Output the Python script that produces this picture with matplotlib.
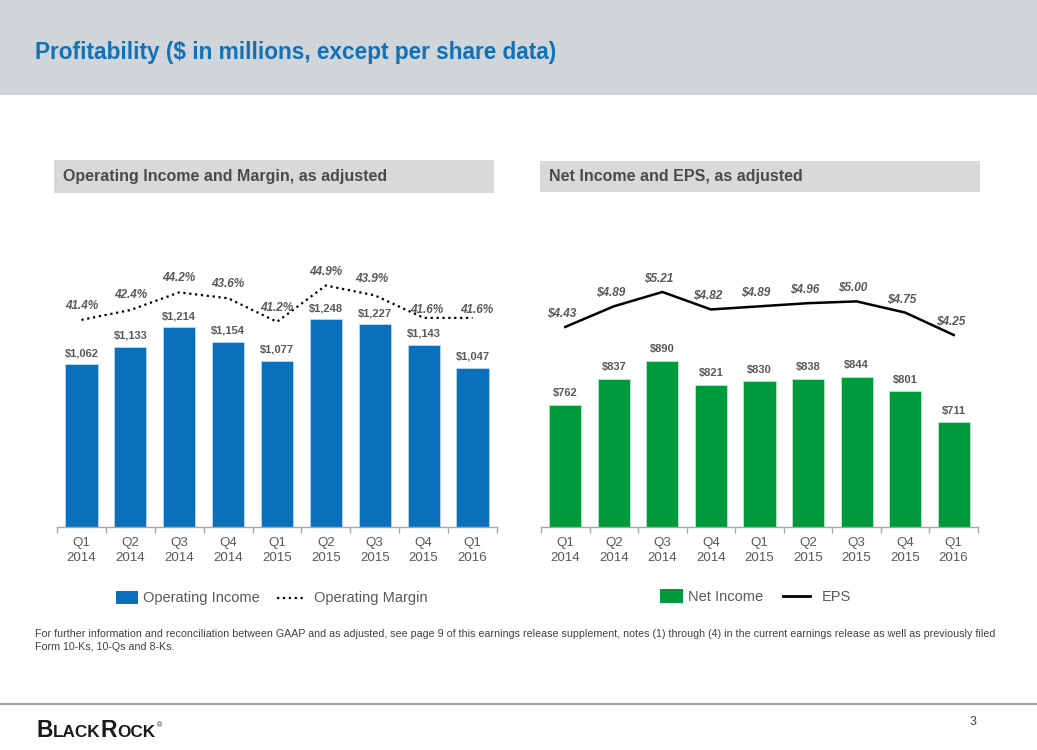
import numpy as np
import matplotlib
matplotlib.use("Agg")
import matplotlib.pyplot as plt
from matplotlib.patches import Rectangle
from matplotlib.lines import Line2D

plt.rcParams['font.family'] = ['Liberation Sans', 'DejaVu Sans']

# ---------------- data ----------------
quarters = ["Q1\n2014", "Q2\n2014", "Q3\n2014", "Q4\n2014", "Q1\n2015",
            "Q2\n2015", "Q3\n2015", "Q4\n2015", "Q1\n2016"]
op_income = [1062, 1133, 1214, 1154, 1077, 1248, 1227, 1143, 1047]
op_margin = [41.4, 42.4, 44.2, 43.6, 41.2, 44.9, 43.9, 41.6, 41.6]
net_income = [762, 837, 890, 821, 830, 838, 844, 801, 711]
eps = [4.43, 4.89, 5.21, 4.82, 4.89, 4.96, 5.00, 4.75, 4.25]

# label offsets (style, in points)
margin_label_dy = [10, 11, 10, 10, 10, 9.5, 12, 6, 6]
margin_label_dx = [0, 0, 0, 0, 0, 0, -2, 2.5, 3]

W, H = 1037, 750
fig = plt.figure(figsize=(W / 100, H / 100), dpi=100)


def fx(x):
    return x / W


def fy(y):
    return 1 - y / H


BLUE = '#0A70BC'
GREEN = '#009A3D'
GRAY_TXT = '#595959'
TITLE_BLUE = '#1470B5'

# header band
fig.patches.append(Rectangle((0, fy(95)), 1, 95 / H, transform=fig.transFigure,
                             facecolor='#D0D5DA', edgecolor='none', zorder=0))
fig.text(fx(35), fy(52), "Profitability ($ in millions, except per share data)",
         fontsize=16.3, fontweight='bold', color=TITLE_BLUE, va='center', ha='left')

# subtitle boxes
fig.patches.append(Rectangle((fx(54), fy(193)), 440 / W, 33 / H, transform=fig.transFigure,
                             facecolor='#D9D9D9', edgecolor='none', zorder=0))
fig.text(fx(63), fy(177), "Operating Income and Margin, as adjusted", fontsize=11.5,
         fontweight='bold', color='#4A4A4A', va='center', ha='left')
fig.patches.append(Rectangle((fx(540), fy(192)), 440 / W, 31 / H, transform=fig.transFigure,
                             facecolor='#D9D9D9', edgecolor='none', zorder=0))
fig.text(fx(549), fy(176), "Net Income and EPS, as adjusted", fontsize=11.5,
         fontweight='bold', color='#4A4A4A', va='center', ha='left')

x = np.arange(len(quarters))


def style_axis(ax):
    for s in ['top', 'left', 'right']:
        ax.spines[s].set_visible(False)
    ax.spines['bottom'].set_color('#A6A6A6')
    ax.spines['bottom'].set_linewidth(1.0)
    ax.set_yticks([])
    ax.set_xlim(-0.5, len(quarters) - 0.5)
    ax.set_xticks(x)
    ax.set_xticklabels(quarters, fontsize=9.6, color=GRAY_TXT, linespacing=1.25)
    ax.tick_params(axis='x', which='major', length=0, pad=7.5)
    ax.set_xticks(np.arange(-0.5, len(quarters), 1), minor=True)
    ax.tick_params(axis='x', which='minor', length=4, color='#A6A6A6', width=1)
    ax.patch.set_alpha(0)


def style_twin(ax):
    for s in ax.spines.values():
        s.set_visible(False)
    ax.set_yticks([])
    ax.tick_params(axis='both', length=0)


# ---------------- left chart ----------------
ax1 = fig.add_axes([fx(57), fy(527), 440 / W, 317 / H])
ax1.bar(x, op_income, width=0.66, color=BLUE, edgecolor='#BFE0F5', linewidth=0.5)
ax1.set_ylim(389, 1699)
style_axis(ax1)
for i, v in enumerate(op_income):
    ax1.annotate(f"${v:,}", (i, v), xytext=(0, 8), textcoords='offset points',
                 ha='center', va='center', fontsize=8, fontweight='bold', color=GRAY_TXT)

ax1b = ax1.twinx()
ax1b.plot(x, op_margin, linestyle=':', color='black', linewidth=1.6)
ax1b.set_ylim(20.28, 52.6)
ax1b.set_xlim(-0.5, len(quarters) - 0.5)
style_twin(ax1b)
for i, v in enumerate(op_margin):
    ax1b.annotate(f"{v:.1f}%", (i, v), xytext=(margin_label_dx[i], margin_label_dy[i]),
                  textcoords='offset points', ha='center', va='center', fontsize=8.5,
                  fontweight='bold', fontstyle='italic', color=GRAY_TXT)

# ---------------- right chart ----------------
ax2 = fig.add_axes([fx(541), fy(527), 437 / W, 317 / H])
ax2.bar(x, net_income, width=0.66, color=GREEN, edgecolor='#BFEFD0', linewidth=0.5)
ax2.set_ylim(407, 1328.5)
style_axis(ax2)
for i, v in enumerate(net_income):
    ax2.annotate(f"${v:,}", (i, v), xytext=(0, 8.5), textcoords='offset points',
                 ha='center', va='center', fontsize=8, fontweight='bold', color=GRAY_TXT)

ax2b = ax2.twinx()
ax2b.plot(x, eps, linestyle='-', color='black', linewidth=1.8)
ax2b.set_ylim(-0.036, 7.04)
ax2b.set_xlim(-0.5, len(quarters) - 0.5)
style_twin(ax2b)
for i, v in enumerate(eps):
    ax2b.annotate(f"${v:.2f}", (i, v), xytext=(-2.5, 9.5), textcoords='offset points',
                  ha='center', va='center', fontsize=8.5, fontweight='bold',
                  fontstyle='italic', color=GRAY_TXT)

# ---------------- legends ----------------
fig.patches.append(Rectangle((fx(116), fy(604)), 22 / W, 13 / H, transform=fig.transFigure,
                             facecolor=BLUE, edgecolor='none'))
fig.text(fx(143), fy(598), "Operating Income", fontsize=10.5, color=GRAY_TXT,
         va='center', ha='left')
fig.lines.append(Line2D([fx(277), fx(303)], [fy(598), fy(598)], transform=fig.transFigure,
                        linestyle=':', color='black', linewidth=1.6))
fig.text(fx(314), fy(598), "Operating Margin", fontsize=10.5, color=GRAY_TXT,
         va='center', ha='left')

fig.patches.append(Rectangle((fx(660), fy(603)), 23 / W, 14 / H, transform=fig.transFigure,
                             facecolor=GREEN, edgecolor='none'))
fig.text(fx(688), fy(597), "Net Income", fontsize=10.5, color=GRAY_TXT,
         va='center', ha='left')
fig.lines.append(Line2D([fx(783), fx(810)], [fy(596), fy(596)], transform=fig.transFigure,
                        linestyle='-', color='black', linewidth=2))
fig.text(fx(822), fy(597), "EPS", fontsize=10.5, color=GRAY_TXT, va='center', ha='left')

# ---------------- footnote ----------------
fig.text(fx(35), fy(634),
         "For further information and reconciliation between GAAP and as adjusted, see page 9 of this "
         "earnings release supplement, notes (1) through (4) in the current earnings release as well as previously filed",
         fontsize=7.7, color='#404040', va='center', ha='left')
fig.text(fx(35), fy(647), "Form 10-Ks, 10-Qs and 8-Ks.", fontsize=7.7, color='#404040',
         va='center', ha='left')

# separator & footer
fig.lines.append(Line2D([0, 1], [fy(704), fy(704)], transform=fig.transFigure,
                        color='#A0A0A0', linewidth=1.5))
fig.text(fx(973), fy(722), "3", fontsize=9, color='#404040', va='center', ha='center')

renderer = fig.canvas.get_renderer()
xpos = 36
for s, size in [("B", 16.5), ("LACK", 12.3), ("R", 16.5), ("OCK", 12.3)]:
    t = fig.text(fx(xpos), fy(737), s, fontsize=size, color='#1A1A1A', va='baseline',
                 ha='left', fontweight='semibold')
    bb = t.get_window_extent(renderer)
    xpos += bb.width + 0.3
fig.text(fx(xpos + 1), fy(727), "®", fontsize=5, color='#1A1A1A', va='baseline', ha='left')

fig.savefig("out.png", dpi=100)
